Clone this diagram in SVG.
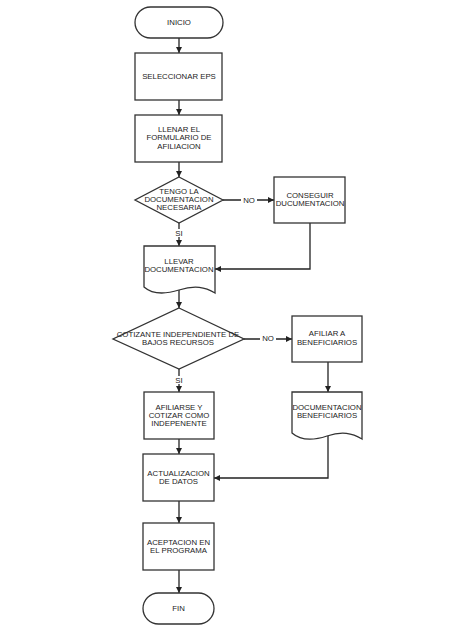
<svg xmlns="http://www.w3.org/2000/svg" width="474" height="632" viewBox="0 0 474 632">
<defs>
<marker id="arr" viewBox="0 0 10 10" refX="10" refY="5" markerWidth="6" markerHeight="6" markerUnits="userSpaceOnUse" orient="auto">
<path d="M0,0 L10,5 L0,10 Z" fill="#222"/>
</marker>
<style>
.s{fill:#fff;stroke:#333;stroke-width:1.3}
.t{font-family:"Liberation Sans",Arial,sans-serif;font-size:7.8px;fill:#222;text-anchor:middle;dominant-baseline:central}
.c{fill:none;stroke:#222;stroke-width:1.3;marker-end:url(#arr)}
.bg{fill:#fff}
</style>
</defs>
<rect width="474" height="632" fill="#fff"/>
<g id="connectors">
<path class="c" d="M179,38 V53"/>
<path class="c" d="M179,100 V115"/>
<path class="c" d="M179,162 V177"/>
<path class="c" d="M223,200 H274"/>
<path class="c" d="M310,223 V269 H215"/>
<path class="c" d="M179,223 V246"/>
<path class="c" d="M179,290 V308"/>
<path class="c" d="M244,339 H292"/>
<path class="c" d="M328,362 V392"/>
<path class="c" d="M179,369 V392"/>
<path class="c" d="M179,439 V454"/>
<path class="c" d="M328,436 V478 H214"/>
<path class="c" d="M179,501 V523"/>
<path class="c" d="M179,570 V593"/>
<rect class="bg" x="241" y="196" width="16" height="8"/>
<text class="t" x="249" y="200">NO</text>
<rect class="bg" x="173" y="229" width="12" height="8"/>
<text class="t" x="179" y="233">SI</text>
<rect class="bg" x="260" y="335" width="16" height="8"/>
<text class="t" x="268" y="338">NO</text>
<rect class="bg" x="173" y="376" width="12" height="8"/>
<text class="t" x="179" y="380">SI</text>
</g>
<g id="inicio">
<rect class="s" x="135" y="7" width="88" height="31" rx="15.5"/>
<text class="t" x="179" y="22">INICIO</text>
</g>
<g id="seleccionar">
<rect class="s" x="135" y="53" width="87" height="47"/>
<text class="t" x="179" y="76">SELECCIONAR EPS</text>
</g>
<g id="llenar">
<rect class="s" x="135" y="115" width="87" height="47"/>
<text class="t" x="179" y="129">LLENAR EL</text>
<text class="t" x="179" y="137.5">FORMULARIO DE</text>
<text class="t" x="179" y="146">AFILIACION</text>
</g>
<g id="tengo">
<polygon class="s" points="179,177 223,200 179,223 135,200"/>
<text class="t" x="179" y="191">TENGO LA</text>
<text class="t" x="179" y="199">DOCUMENTACION</text>
<text class="t" x="179" y="207">NECESARIA</text>
</g>
<g id="conseguir">
<rect class="s" x="274" y="177" width="71" height="46"/>
<text class="t" x="310" y="195">CONSEGUIR</text>
<text class="t" x="310" y="203">DUCUMENTACION</text>
</g>
<g id="llevar">
<path class="s" d="M144,246 H215 V293 C205,287 195,285 179,290 C163,295 152,294 144,287 Z"/>
<text class="t" x="179" y="261">LLEVAR</text>
<text class="t" x="179" y="269">DOCUMENTACION</text>
</g>
<g id="cotizante">
<polygon class="s" points="179,308 244,339 179,369 113,339"/>
<text class="t" x="178" y="334">COTIZANTE INDEPENDIENTE DE</text>
<text class="t" x="178" y="342">BAJOS RECURSOS</text>
</g>
<g id="afiliar">
<rect class="s" x="292" y="316" width="70" height="46"/>
<text class="t" x="327" y="333">AFILIAR A</text>
<text class="t" x="327" y="342">BENEFICIARIOS</text>
</g>
<g id="docben">
<path class="s" d="M292,392 H362 V439 C352,433 342,431 327,436 C312,441 300,440 292,433 Z"/>
<text class="t" x="327" y="407">DOCUMENTACION</text>
<text class="t" x="327" y="415">BENEFICIARIOS</text>
</g>
<g id="afiliarse">
<rect class="s" x="144" y="392" width="70" height="47"/>
<text class="t" x="179" y="407">AFILIARSE Y</text>
<text class="t" x="179" y="415">COTIZAR COMO</text>
<text class="t" x="179" y="423">INDEPENENTE</text>
</g>
<g id="actualizacion">
<rect class="s" x="143" y="454" width="71" height="47"/>
<text class="t" x="178.5" y="473">ACTUALIZACION</text>
<text class="t" x="178.5" y="481">DE DATOS</text>
</g>
<g id="aceptacion">
<rect class="s" x="143" y="523" width="71" height="47"/>
<text class="t" x="178.5" y="542">ACEPTACION EN</text>
<text class="t" x="178.5" y="550">EL PROGRAMA</text>
</g>
<g id="fin">
<rect class="s" x="143" y="593" width="71" height="31" rx="15.5"/>
<text class="t" x="178.5" y="608">FIN</text>
</g>
</svg>
